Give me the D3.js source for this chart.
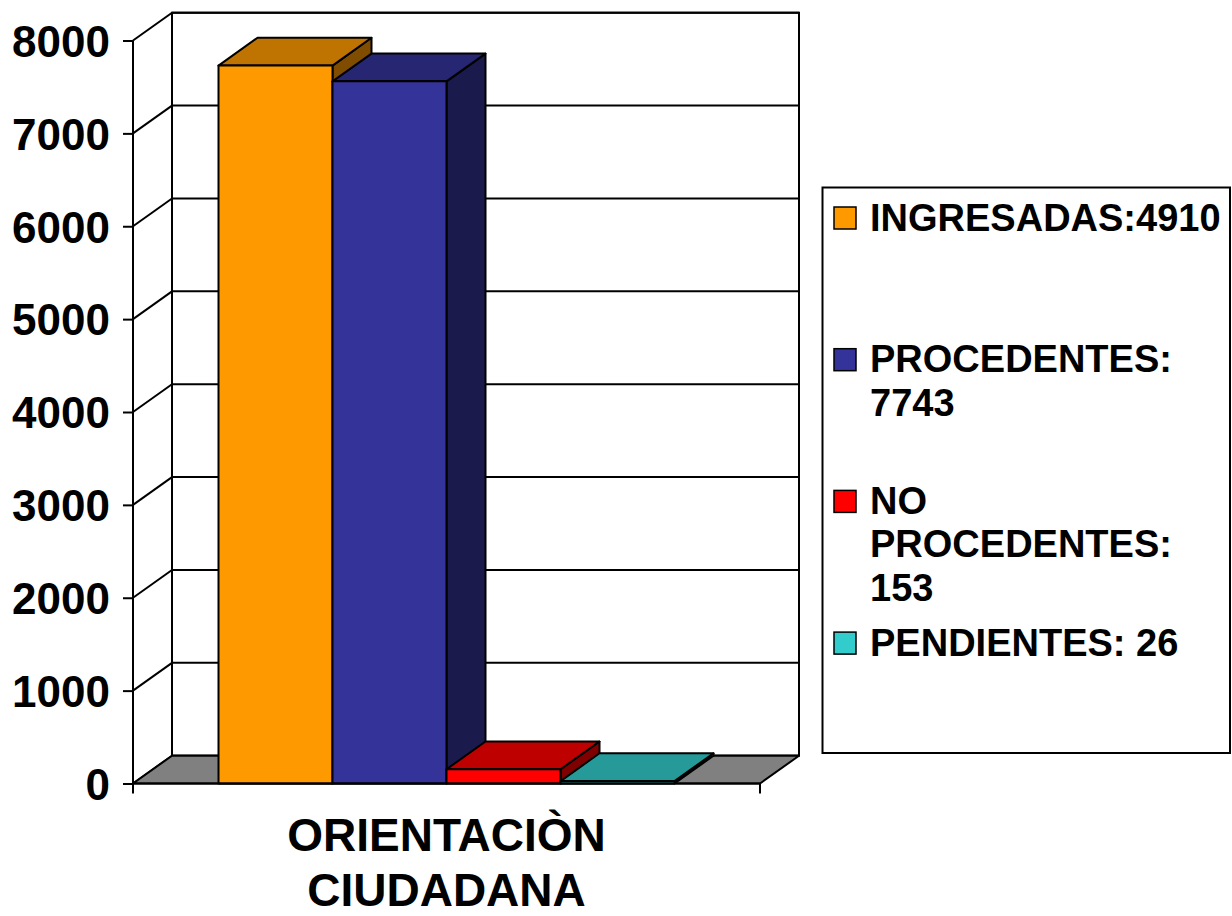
<!DOCTYPE html>
<html>
<head>
<meta charset="utf-8">
<script src="https://cdn.jsdelivr.net/npm/d3@7"></script>
<style>
  html, body { margin: 0; padding: 0; background: #ffffff; }
  svg { display: block; }
  text { font-family: "Liberation Sans", Arial, Helvetica, sans-serif; font-weight: bold; fill: #000; }
</style>
</head>
<body>
<svg id="chart" width="1232" height="916"></svg>
<script>
// Category and series
const categories = ["ORIENTACIÒN CIUDADANA"];
const categoryLines = [["ORIENTACIÒN", "CIUDADANA"]];
const seriesKeys = ["ingresadas", "procedentes", "noProcedentes", "pendientes"];
const seriesNames = [
  ["INGRESADAS:4910"],
  ["PROCEDENTES:", "7743"],
  ["NO", "PROCEDENTES:", "153"],
  ["PENDIENTES: 26"]
];
const seriesValues = [7730, 7560, 153, 26];
const yTicks = [0, 1000, 2000, 3000, 4000, 5000, 6000, 7000, 8000];

// Face colours per series: front, top, side
const frontColors = ["#FF9900", "#333399", "#FF0000", "#33CCCC"];
const topColors   = ["#BF7300", "#262673", "#BF0000", "#269999"];
const sideColors  = ["#804D00", "#1A1A4D", "#800000", "#1A6666"];

const svg = d3.select("#chart");

// Plot geometry (front plane) and depth offset for the 3D look
const left = 133, right = 760;
const depthX = 39, depthY = -27.8;

const y = d3.scaleLinear().domain([0, 8000]).range([783.5, 40.5]);
const xCat = d3.scaleBand().domain(categories).range([left, right]);
const xSeries = d3.scaleBand().domain(seriesKeys)
  .range([xCat(categories[0]), xCat(categories[0]) + xCat.bandwidth()])
  .paddingInner(0).paddingOuter(0.75);

const line = (x1, y1, x2, y2, w = 2) =>
  svg.append("line").attr("x1", x1).attr("y1", y1).attr("x2", x2).attr("y2", y2)
    .attr("stroke", "#000").attr("stroke-width", w);

const y0 = y(0);
const backLeft = left + depthX, backRight = right + depthX;

// Back wall with gridlines
svg.append("rect")
  .attr("x", backLeft).attr("y", y(8000) + depthY)
  .attr("width", backRight - backLeft).attr("height", y0 - y(8000))
  .attr("fill", "#fff").attr("stroke", "#000").attr("stroke-width", 2);

svg.append("g").selectAll("line").data(yTicks).join("line")
  .attr("x1", backLeft).attr("x2", backRight)
  .attr("y1", d => y(d) + depthY).attr("y2", d => y(d) + depthY)
  .attr("stroke", "#000").attr("stroke-width", 2);

// Side wall diagonals
svg.append("g").selectAll("line").data(yTicks).join("line")
  .attr("x1", left).attr("x2", backLeft)
  .attr("y1", d => y(d)).attr("y2", d => y(d) + depthY)
  .attr("stroke", "#000").attr("stroke-width", 2);

// Floor
svg.append("path")
  .attr("d", `M${left},${y0}L${right},${y0}L${backRight},${y0 + depthY}L${backLeft},${y0 + depthY}Z`)
  .attr("fill", "#808080").attr("stroke", "#000").attr("stroke-width", 2)
  .attr("stroke-linejoin", "round");

// Bars drawn left to right so each one covers its neighbour's side
const bars = svg.append("g");
seriesKeys.forEach((k, i) => {
  const x0 = xSeries(k), x1 = x0 + xSeries.bandwidth();
  const yv = y(seriesValues[i]);
  const g = bars.append("g")
    .attr("stroke", "#000").attr("stroke-width", 2).attr("stroke-linejoin", "round");
  // side face
  g.append("path")
    .attr("d", `M${x1},${yv}L${x1 + depthX},${yv + depthY}L${x1 + depthX},${y0 + depthY}L${x1},${y0}Z`)
    .attr("fill", sideColors[i]);
  // top face
  g.append("path")
    .attr("d", `M${x0},${yv}L${x1},${yv}L${x1 + depthX},${yv + depthY}L${x0 + depthX},${yv + depthY}Z`)
    .attr("fill", topColors[i]);
  // front face
  g.append("rect")
    .attr("x", x0).attr("y", yv).attr("width", x1 - x0).attr("height", y0 - yv)
    .attr("fill", frontColors[i]);
});

// Value axis
const yAxis = d3.axisLeft(y).tickValues(yTicks).tickSize(10).tickPadding(13).tickFormat(d3.format("d"));
const yg = svg.append("g").attr("transform", `translate(${left},0)`).call(yAxis);
yg.select(".domain").remove();
yg.selectAll(".tick line").attr("stroke", "#000").attr("stroke-width", 2);
yg.selectAll(".tick text")
  .style("font-size", "44px").style("font-family", "'Liberation Sans', Arial, sans-serif")
  .style("font-weight", "bold").attr("fill", "#000").attr("dy", "0.36em");
line(left, y(8000), left, y0 + 10);

// Category axis
line(left, y0, right, y0);
line(right, y0, right, y0 + 10);
const catG = svg.append("g");
categories.forEach((c, ci) => {
  const cx = xCat(c) + xCat.bandwidth() / 2;
  categoryLines[ci].forEach((t, li) => {
    catG.append("text").attr("x", cx).attr("y", 850.5 + li * 55.5)
      .attr("text-anchor", "middle").style("font-size", "46px").text(t);
  });
});

// Legend
const legend = svg.append("g");
legend.append("rect")
  .attr("x", 822.5).attr("y", 187.5).attr("width", 407.5).attr("height", 565.5)
  .attr("fill", "#fff").attr("stroke", "#000").attr("stroke-width", 2);
const itemTop = 207, itemStep = 141.7, lineStep = 43.5;
seriesKeys.forEach((k, i) => {
  const top = itemTop + i * itemStep;
  legend.append("rect")
    .attr("x", 834).attr("y", top).attr("width", 22).attr("height", 22)
    .attr("fill", frontColors[i]).attr("stroke", "#000").attr("stroke-width", 1.5);
  seriesNames[i].forEach((t, li) => {
    legend.append("text").attr("x", 870).attr("y", top + 23.5 + li * lineStep)
      .style("font-size", "38px").text(t);
  });
});
</script>
</body>
</html>
